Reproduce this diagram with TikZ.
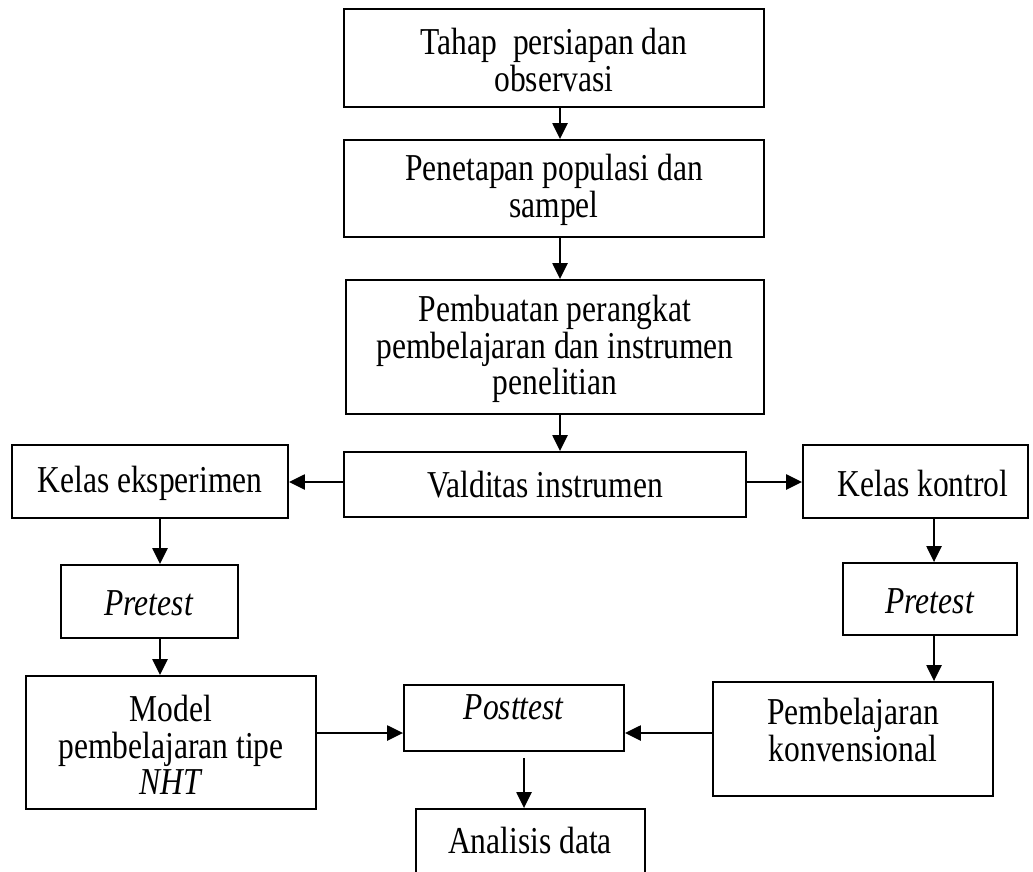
\documentclass[tikz,border=0pt]{standalone}
\usepackage{fontspec}
\setmainfont{Liberation Serif}[FakeStretch=0.83]
\usetikzlibrary{arrows.meta}
\begin{document}
\begin{tikzpicture}[x=1pt,y=-1pt,
  box/.style={draw, line width=1.8pt, inner sep=0pt},
  txt/.style={inner sep=0pt, align=center, font=\fontsize{38}{36.5}\selectfont},
  arr/.style={line width=2.3pt, -{Triangle[length=16pt,width=15pt]}}]
\useasboundingbox (0,0) rectangle (1033,872);
% boxes
\node[box, minimum width=420pt, minimum height=98pt]  (b1)    at (554,58) {};
\node[box, minimum width=420pt, minimum height=97pt]  (b2)    at (554,188.5) {};
\node[box, minimum width=418pt, minimum height=134pt] (b3)    at (555,347) {};
\node[box, minimum width=402pt, minimum height=65pt]  (b4)    at (545,484.5) {};
\node[box, minimum width=276pt, minimum height=73pt]  (ke)    at (150,481.5) {};
\node[box, minimum width=225pt, minimum height=73pt]  (kk)    at (915.5,481.5) {};
\node[box, minimum width=177pt, minimum height=73pt]  (pl)    at (149.5,601.5) {};
\node[box, minimum width=174pt, minimum height=72pt]  (pr)    at (930,599) {};
\node[box, minimum width=290pt, minimum height=133pt] (model) at (171,742.5) {};
\node[box, minimum width=220pt, minimum height=66pt]  (post)  at (514,718) {};
\node[box, minimum width=280pt, minimum height=114pt] (pemb)  at (853,739) {};
\node[box, minimum width=229pt, minimum height=90pt]  (ana)   at (530.5,854) {};
% texts
\node[txt] (t1) at (554,60) {Tahap\ \ persiapan dan\\observasi};
\node[txt] (t2) at (554,190) {Penetapan populasi dan\\sampel};
\node[txt] (t3) at (555,349) {Pembuatan perangkat\\pembelajaran dan instrumen\\penelitian};
\node[txt] (t4) at (545,485) {Valditas instrumen};
\node[txt] (tke) at (150,483) {Kelas eksperimen};
\node[txt] (tkk) at (923,483) {Kelas kontrol};
\node[txt] (tpl) at (149,603) {\textit{Pretest}};
\node[txt] (tpr) at (930,601) {\textit{Pretest}};
\node[txt] (tmodel) at (171,745) {Model\\pembelajaran tipe\\\textit{NHT}};
\node[txt] (tpost) at (514,707) {\textit{Posttest}};
\node[txt] (tpemb) at (853,730) {Pembelajaran\\konvensional};
\node[txt] (tana) at (530,840) {Analisis data};
% helper coordinates
\coordinate (xa) at (560,0);
\coordinate (xl) at (160,0);
\coordinate (xr) at (934,0);
\coordinate (xp) at (524,0);
\coordinate (ya) at (0,482);
\coordinate (yb) at (0,733);
% connectors
\draw[arr] (b1.south -| xa) -- (b2.north -| xa);
\draw[arr] (b2.south -| xa) -- (b3.north -| xa);
\draw[arr] (b3.south -| xa) -- (b4.north -| xa);
\draw[arr] (b4.west |- ya) -- (ke.east |- ya);
\draw[arr] (b4.east |- ya) -- (kk.west |- ya);
\draw[arr] (ke.south -| xl) -- (pl.north -| xl);
\draw[arr] (kk.south -| xr) -- (pr.north -| xr);
\draw[arr] (pl.south -| xl) -- (model.north -| xl);
\draw[arr] (pr.south -| xr) -- (pemb.north -| xr);
\draw[arr] (model.east |- yb) -- (post.west |- yb);
\draw[arr] (pemb.west |- yb) -- (post.east |- yb);
\draw[arr, shorten <=6pt] (post.south -| xp) -- (ana.north -| xp);
\end{tikzpicture}
\end{document}
